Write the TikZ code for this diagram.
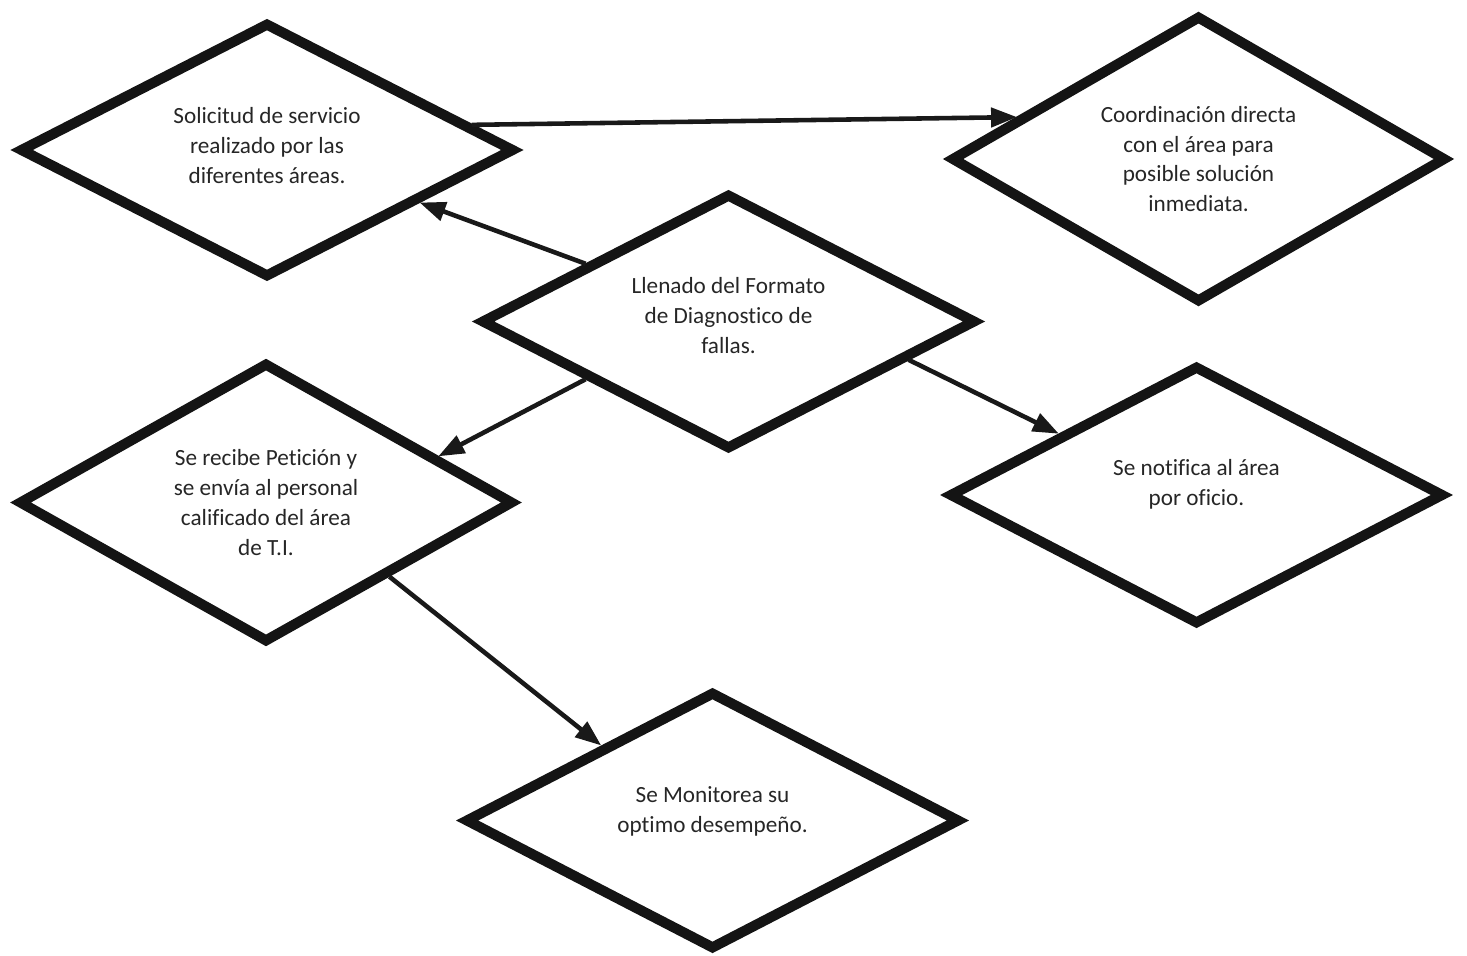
\documentclass[tikz,border=0pt]{standalone}
\usepackage{fontspec}
\setmainfont{Carlito}[Ligatures=NoCommon]
\usetikzlibrary{shapes.geometric,arrows.meta}

% baja el borde inferior del texto (sube el texto en el rombo)
\newcommand{\bajo}[1]{\rule[-#1]{0pt}{0pt}}

\begin{document}
\begin{tikzpicture}[
	rombo/.style={diamond, draw=black!92, line width=5.8pt, aspect=2, inner sep=0pt,
		minimum width=9.9cm, align=center, text=black!85,
		font=\fontsize{13.2}{17}\selectfont},
	flecha/.style={draw=black!90, line width=2.6pt, -{Triangle[length=0.52cm,width=0.38cm]}}
]

\useasboundingbox (0,0) rectangle (29.34,19.1);

% rombos
\node[rombo, minimum height=5.1cm] (solicitud) at (5.34,16.10) {Solicitud de servicio\\realizado por las\\diferentes áreas.\bajo{5.6pt}};
\node[rombo, minimum height=5.74cm] (coordinacion) at (23.97,15.92) {Coordinación directa\\con el área para\\posible solución\\inmediata.};
\node[rombo, minimum height=5.12cm] (llenado) at (14.57,12.67) {Llenado del Formato\\de Diagnostico de\\fallas.\bajo{6.8pt}};
\node[rombo, minimum height=5.6cm] (recibe) at (5.32,9.05) {Se recibe Petición y\\se envía al personal\\calificado del área\\de T.I.};
\node[rombo, minimum height=5.18cm] (notifica) at (23.93,9.20) {Se notifica al área\\por oficio.\bajo{13.9pt}};
\node[rombo, minimum height=5.16cm] (monitorea) at (14.25,2.69) {Se Monitorea su\\optimo desempeño.\bajo{12.7pt}};

% flechas
\draw[flecha] (solicitud.7.8) -- (coordinacion.167.5);
\draw[flecha] (llenado.158.8) -- (solicitud.-19.1);
\draw[flecha] (llenado.202.5) -- (recibe.15);
\draw[flecha] (llenado.-12.9) -- (notifica.156.3);
\draw[flecha] (recibe.-31.3) -- (monitorea.146.1);

\end{tikzpicture}
\end{document}
